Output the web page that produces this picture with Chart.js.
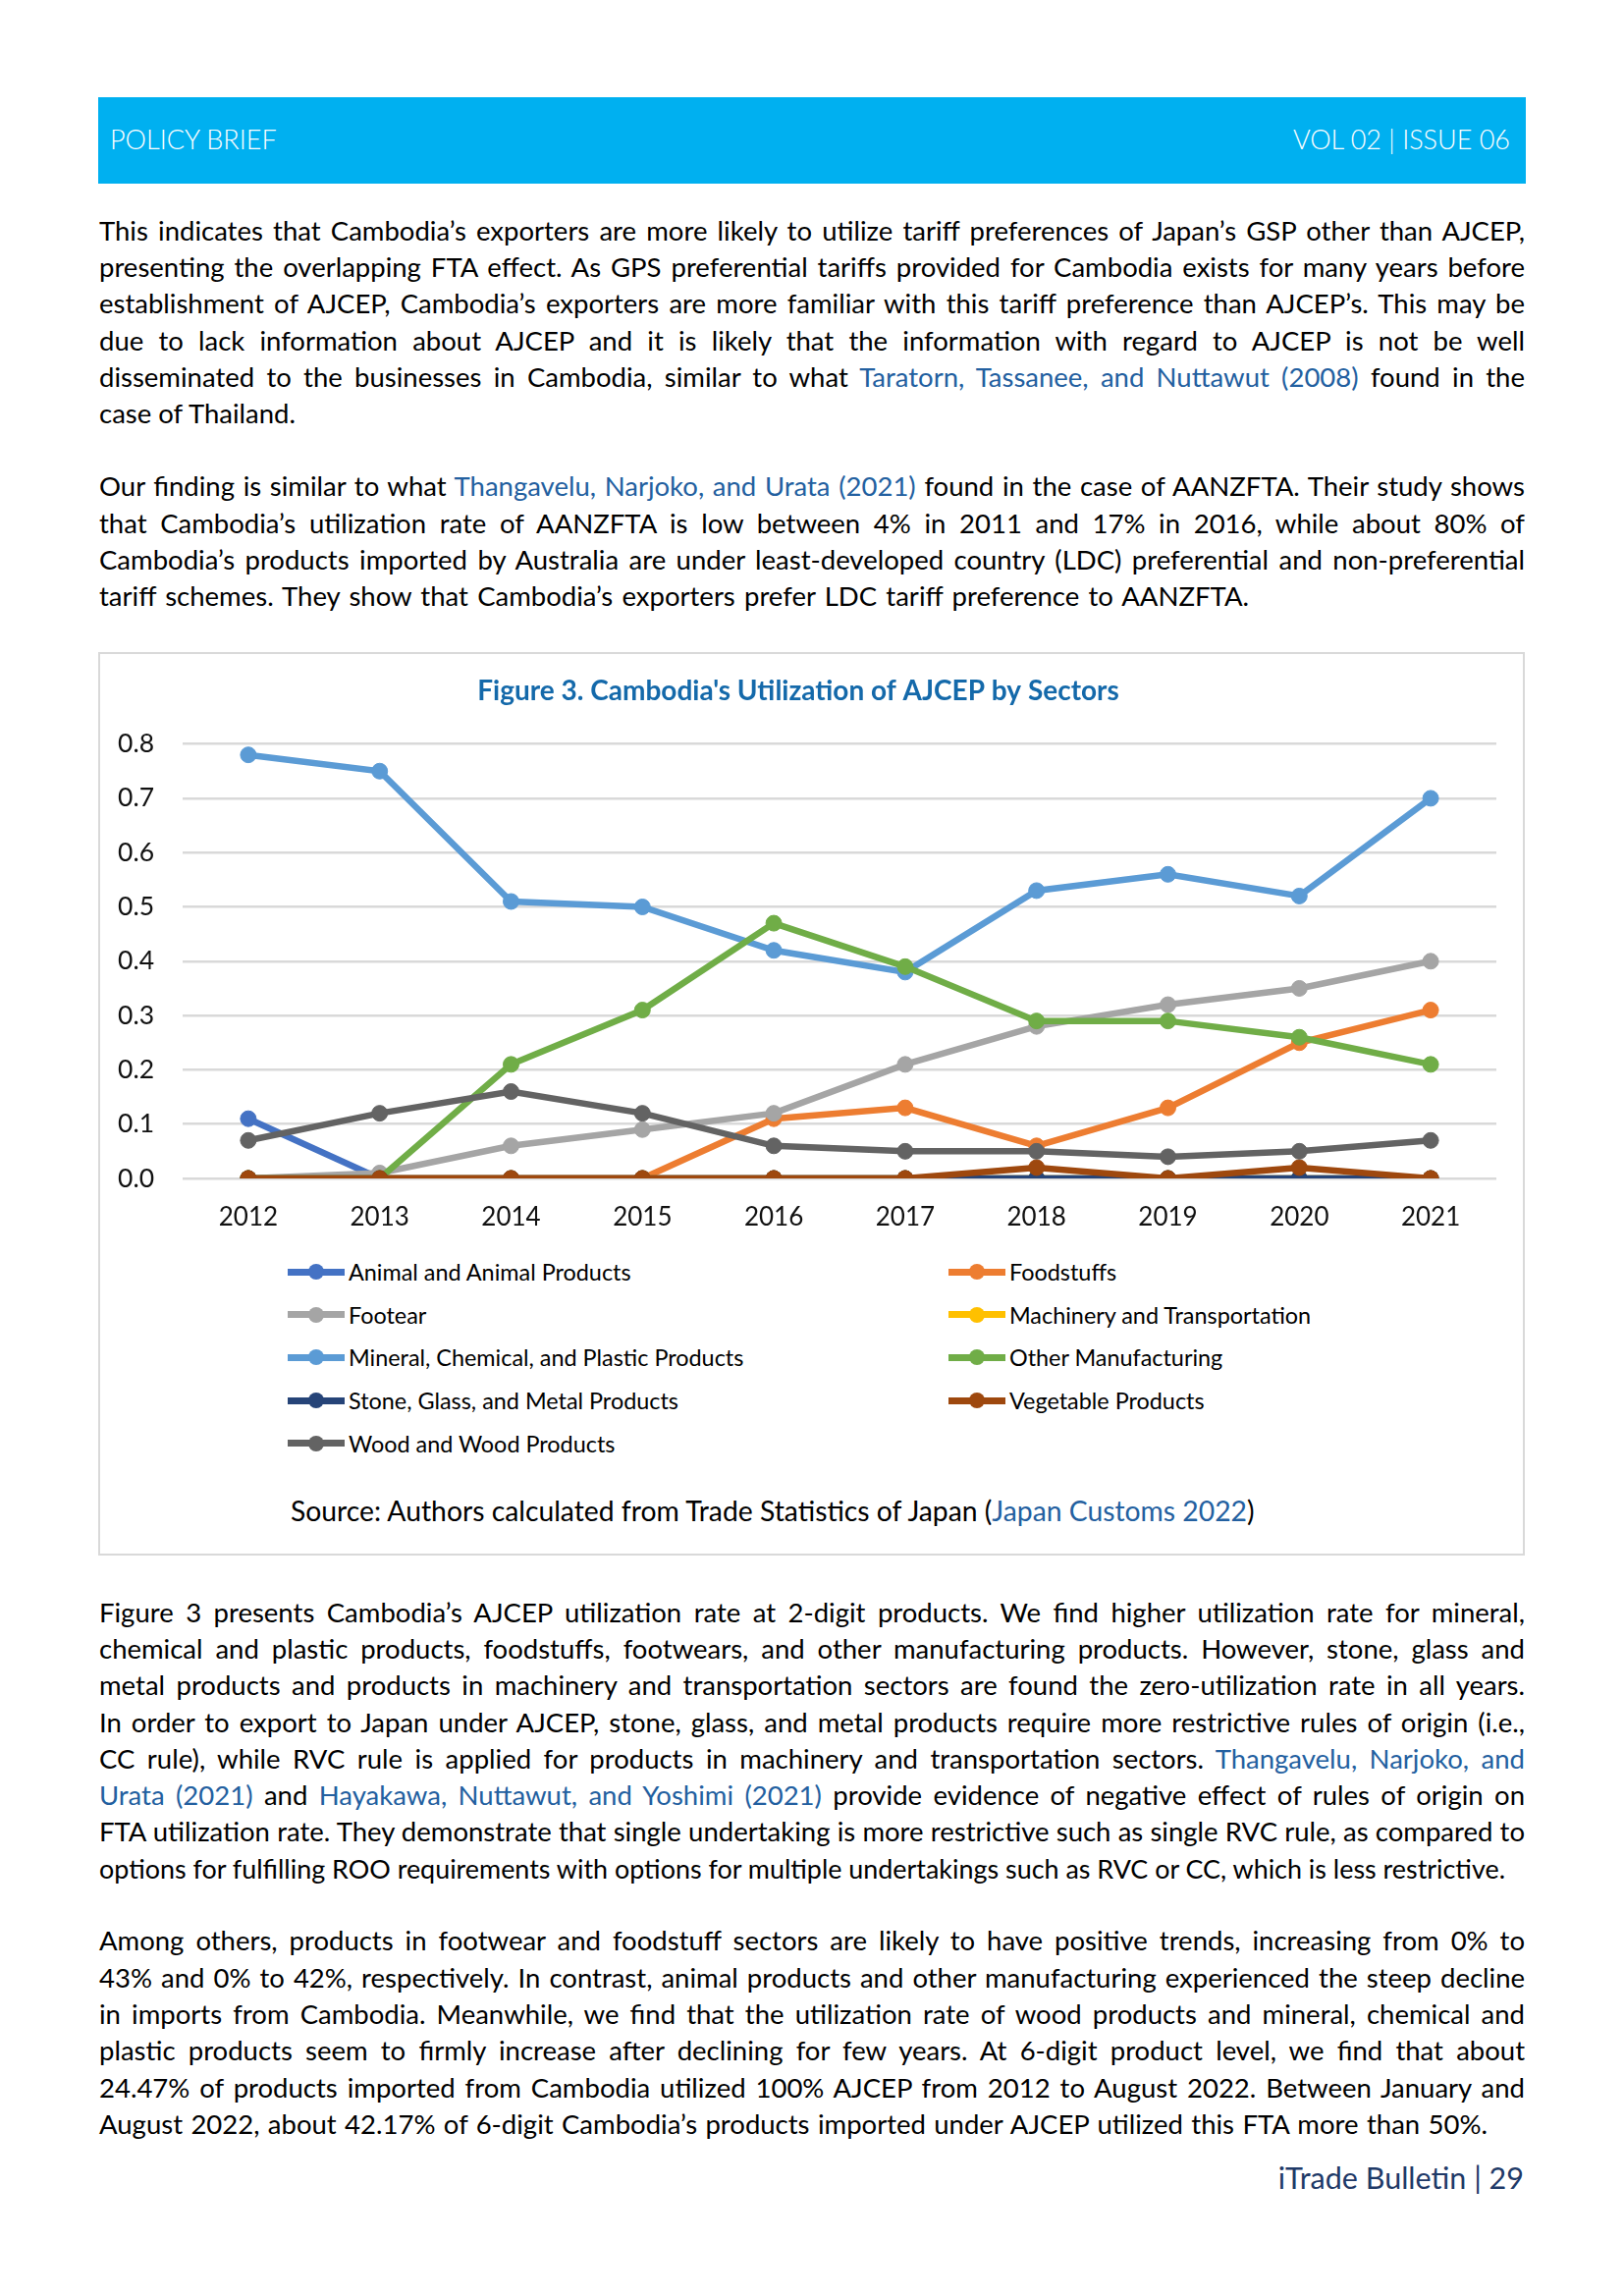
<!DOCTYPE html>
<html>
<head>
<meta charset="utf-8">
<script src="https://cdn.jsdelivr.net/npm/chart.js@4.4.1/dist/chart.umd.min.js"></script>
<style>
  html, body { margin: 0; padding: 0; background: #fff; }
  body { position: relative; width: 1654px; height: 2338px; overflow: hidden; font-family: Lato, 'Open Sans', sans-serif; color: #000; }
  #header { position: absolute; left: 100px; top: 99px; width: 1454px; height: 88px; background: #00b0f0; }
  .htxt { position: absolute; top: 29px; font-size: 27px; line-height: 27px; font-weight: 300; color: #fff; white-space: nowrap; }
  .para { position: absolute; left: 101px; width: 1452px; font-size: 27.5px; }
  .ln { height: 37.3px; line-height: 37.3px; white-space: nowrap; }
  .lk { color: #2360a0; }
  #box { position: absolute; left: 100px; top: 664px; width: 1449px; height: 916px; border: 2px solid #d9d9d9; }
  #myChart { position: absolute; left: 102px; top: 666px; }
  .lg { position: absolute; height: 30px; display: flex; align-items: center; font-size: 23.4px; white-space: nowrap; }
  .mk { position: relative; width: 58px; height: 30px; margin-right: 4px; }
  .mk .bar { position: absolute; left: 0; top: 11.5px; width: 58px; height: 7px; }
  .mk .dot { position: absolute; left: 21px; top: 7px; width: 16px; height: 16px; border-radius: 50%; }
  #source { position: absolute; left: 296px; top: 1524px; font-size: 28.3px; line-height: 28px; white-space: nowrap; }
  #footer { position: absolute; right: 102px; top: 2199px; font-size: 30.5px; line-height: 37.3px; color: #1f3a68; white-space: nowrap; }
</style>
</head>
<body>
<div id="header">
  <div class="htxt" style="left:12px">POLICY BRIEF</div>
  <div class="htxt" style="right:16px">VOL 02 | ISSUE 06</div>
</div>

<div id="p1" class="para" style="top:215.7px"></div>
<div id="p2" class="para" style="top:476.4px"></div>

<div id="box"></div>
<canvas id="myChart" width="1449" height="590"></canvas>
<div id="legend"></div>
<div id="source">Source: Authors calculated from Trade Statistics of Japan (<span class="lk">Japan Customs 2022</span>)</div>

<div id="p3" class="para" style="top:1622.7px"></div>
<div id="p4" class="para" style="top:1957.4px"></div>
<div id="footer">iTrade Bulletin | 29</div>

<script>
'use strict';
const years = ['2012', '2013', '2014', '2015', '2016', '2017', '2018', '2019', '2020', '2021'];
const sectorNames = ['Animal and Animal Products', 'Foodstuffs', 'Footear', 'Machinery and Transportation', 'Mineral, Chemical, and Plastic Products', 'Other Manufacturing', 'Stone, Glass, and Metal Products', 'Vegetable Products', 'Wood and Wood Products'];
const sectorColors = ['#4472c4', '#ed7d31', '#a5a5a5', '#ffc000', '#5b9bd5', '#70ad47', '#264478', '#9e480e', '#636363'];

const animal = [0.11, 0, 0, 0, 0, 0, 0, 0, 0, 0];
const foodstuffs = [0, 0, 0, 0, 0.11, 0.13, 0.06, 0.13, 0.25, 0.31];
const footwear = [0, 0.01, 0.06, 0.09, 0.12, 0.21, 0.28, 0.32, 0.35, 0.40];
const machinery = [0, 0, 0, 0, 0, 0, 0, 0, 0, 0];
const mineral = [0.78, 0.75, 0.51, 0.50, 0.42, 0.38, 0.53, 0.56, 0.52, 0.70];
const otherManuf = [0, 0, 0.21, 0.31, 0.47, 0.39, 0.29, 0.29, 0.26, 0.21];
const stone = [0, 0, 0, 0, 0, 0, 0, 0, 0, 0];
const vegetable = [0, 0, 0, 0, 0, 0, 0.02, 0, 0.02, 0];
const wood = [0.07, 0.12, 0.16, 0.12, 0.06, 0.05, 0.05, 0.04, 0.05, 0.07];
const allSeries = [animal, foodstuffs, footwear, machinery, mineral, otherManuf, stone, vegetable, wood];

const yTicks = [0, 0.1, 0.2, 0.3, 0.4, 0.5, 0.6, 0.7, 0.8];

// text of the page, one entry per printed line: [html, width to justify to]
const FULL = 1452;
const para1 = [
  ['This indicates that Cambodia’s exporters are more likely to utilize tariff preferences of Japan’s GSP other than AJCEP,', FULL],
  ['presenting the overlapping FTA effect. As GPS preferential tariffs provided for Cambodia exists for many years before', FULL],
  ['establishment of AJCEP, Cambodia’s exporters are more familiar with this tariff preference than AJCEP’s. This may be', FULL],
  ['due to lack information about AJCEP and it is likely that the information with regard to AJCEP is not be well', FULL],
  ['disseminated to the businesses in Cambodia, similar to what <span class="lk">Taratorn, Tassanee, and Nuttawut (2008)</span> found in the', FULL],
  ['case of Thailand.', 0]
];
const para2 = [
  ['Our finding is similar to what <span class="lk">Thangavelu, Narjoko, and Urata (2021)</span> found in the case of AANZFTA. Their study shows', FULL],
  ['that Cambodia’s utilization rate of AANZFTA is low between 4% in 2011 and 17% in 2016, while about 80% of', FULL],
  ['Cambodia’s products imported by Australia are under least-developed country (LDC) preferential and non-preferential', FULL],
  ['tariff schemes. They show that Cambodia’s exporters prefer LDC tariff preference to AANZFTA.', 1171]
];
const para3 = [
  ['Figure 3 presents Cambodia’s AJCEP utilization rate at 2-digit products. We find higher utilization rate for mineral,', FULL],
  ['chemical and plastic products, foodstuffs, footwears, and other manufacturing products. However, stone, glass and', FULL],
  ['metal products and products in machinery and transportation sectors are found the zero-utilization rate in all years.', FULL],
  ['In order to export to Japan under AJCEP, stone, glass, and metal products require more restrictive rules of origin (i.e.,', FULL],
  ['CC rule), while RVC rule is applied for products in machinery and transportation sectors. <span class="lk">Thangavelu, Narjoko, and</span>', FULL],
  ['<span class="lk">Urata (2021)</span> and <span class="lk">Hayakawa, Nuttawut, and Yoshimi (2021)</span> provide evidence of negative effect of rules of origin on', FULL],
  ['FTA utilization rate. They demonstrate that single undertaking is more restrictive such as single RVC rule, as compared to', FULL],
  ['options for fulfilling ROO requirements with options for multiple undertakings such as RVC or CC, which is less restrictive.', 1432]
];
const para4 = [
  ['Among others, products in footwear and foodstuff sectors are likely to have positive trends, increasing from 0% to', FULL],
  ['43% and 0% to 42%, respectively. In contrast, animal products and other manufacturing experienced the steep decline', FULL],
  ['in imports from Cambodia. Meanwhile, we find that the utilization rate of wood products and mineral, chemical and', FULL],
  ['plastic products seem to firmly increase after declining for few years. At 6-digit product level, we find that about', FULL],
  ['24.47% of products imported from Cambodia utilized 100% AJCEP from 2012 to August 2022. Between January and', FULL],
  ['August 2022, about 42.17% of 6-digit Cambodia’s products imported under AJCEP utilized this FTA more than 50%.', 1414]
];

function writePara(id, lines) {
  const box = document.getElementById(id);
  for (let i = 0; i < lines.length; i++) {
    const ln = document.createElement('div');
    ln.className = 'ln';
    const span = document.createElement('span');
    span.innerHTML = lines[i][0];
    ln.appendChild(span);
    box.appendChild(ln);
    const target = lines[i][1];
    if (!target) continue;
    const natural = span.getBoundingClientRect().width;
    const spaces = (span.textContent.match(/ /g) || []).length;
    if (natural < target && spaces) {
      span.style.wordSpacing = ((target - natural) / spaces) + 'px';
    } else if (natural > target) {
      span.style.display = 'inline-block';
      span.style.transformOrigin = 'left center';
      span.style.transform = 'scaleX(' + (target / natural) + ')';
    }
  }
}
writePara('p1', para1);
writePara('p2', para2);
writePara('p3', para3);
writePara('p4', para4);

// legend in two columns, same order as the workbook
function buildLegend() {
  const legend = document.getElementById('legend');
  for (let i = 0; i < sectorNames.length; i++) {
    const item = document.createElement('div');
    item.className = 'lg';
    item.style.left = (i % 2 === 0 ? 293 : 966) + 'px';
    item.style.top = (1280 + Math.floor(i / 2) * 43.7) + 'px';
    item.innerHTML = '<div class="mk"><div class="bar" style="background:' + sectorColors[i] + '"></div>' +
      '<div class="dot" style="background:' + sectorColors[i] + '"></div></div>' + sectorNames[i];
    legend.appendChild(item);
  }
}
buildLegend();

function chartRender() {
  const datasets = [];
  for (let i = 0; i < sectorNames.length; i++) {
    datasets.push({
      label: sectorNames[i],
      data: allSeries[i],
      borderColor: sectorColors[i],
      backgroundColor: sectorColors[i],
      pointBackgroundColor: sectorColors[i],
      pointBorderColor: sectorColors[i],
      borderWidth: 6.5,
      pointRadius: 8,
      pointBorderWidth: 1,
      tension: 0,
      // later series sit on top, like in Excel
      order: sectorNames.length - i
    });
  }
  const ctx = document.getElementById('myChart').getContext('2d');
  new Chart(ctx, {
    type: 'line',
    data: { labels: years, datasets: datasets },
    options: {
      responsive: false,
      animation: false,
      layout: { padding: { left: 0, right: 27, top: 0, bottom: 0 } },
      plugins: {
        legend: { display: false },
        tooltip: { enabled: false },
        title: {
          display: true,
          text: 'Figure 3. Cambodia\'s Utilization of AJCEP by Sectors',
          color: '#1469aa',
          font: { family: 'Lato', size: 28, weight: 'bold', lineHeight: 1.2 },
          padding: { top: 21, bottom: 37 }
        }
      },
      scales: {
        x: {
          offset: true,
          grid: { display: false, drawTicks: false },
          border: { display: false },
          ticks: { color: '#111', font: { family: 'Lato', size: 26 }, padding: 24, maxRotation: 0 },
          afterFit: function (s) { s.height = 56; }
        },
        y: {
          min: yTicks[0],
          max: yTicks[yTicks.length - 1],
          afterBuildTicks: function (s) { s.ticks = yTicks.map(function (v) { return { value: v }; }); },
          grid: { color: '#d9d9d9', lineWidth: 2.5, drawTicks: false },
          border: { display: false },
          ticks: {
            color: '#111',
            font: { family: 'Lato', size: 26.5 },
            padding: 29,
            callback: function (v) { return Number(v).toFixed(1); }
          },
          afterFit: function (s) { s.width = 84; }
        }
      }
    }
  });
}
chartRender();
</script>
</body>
</html>
